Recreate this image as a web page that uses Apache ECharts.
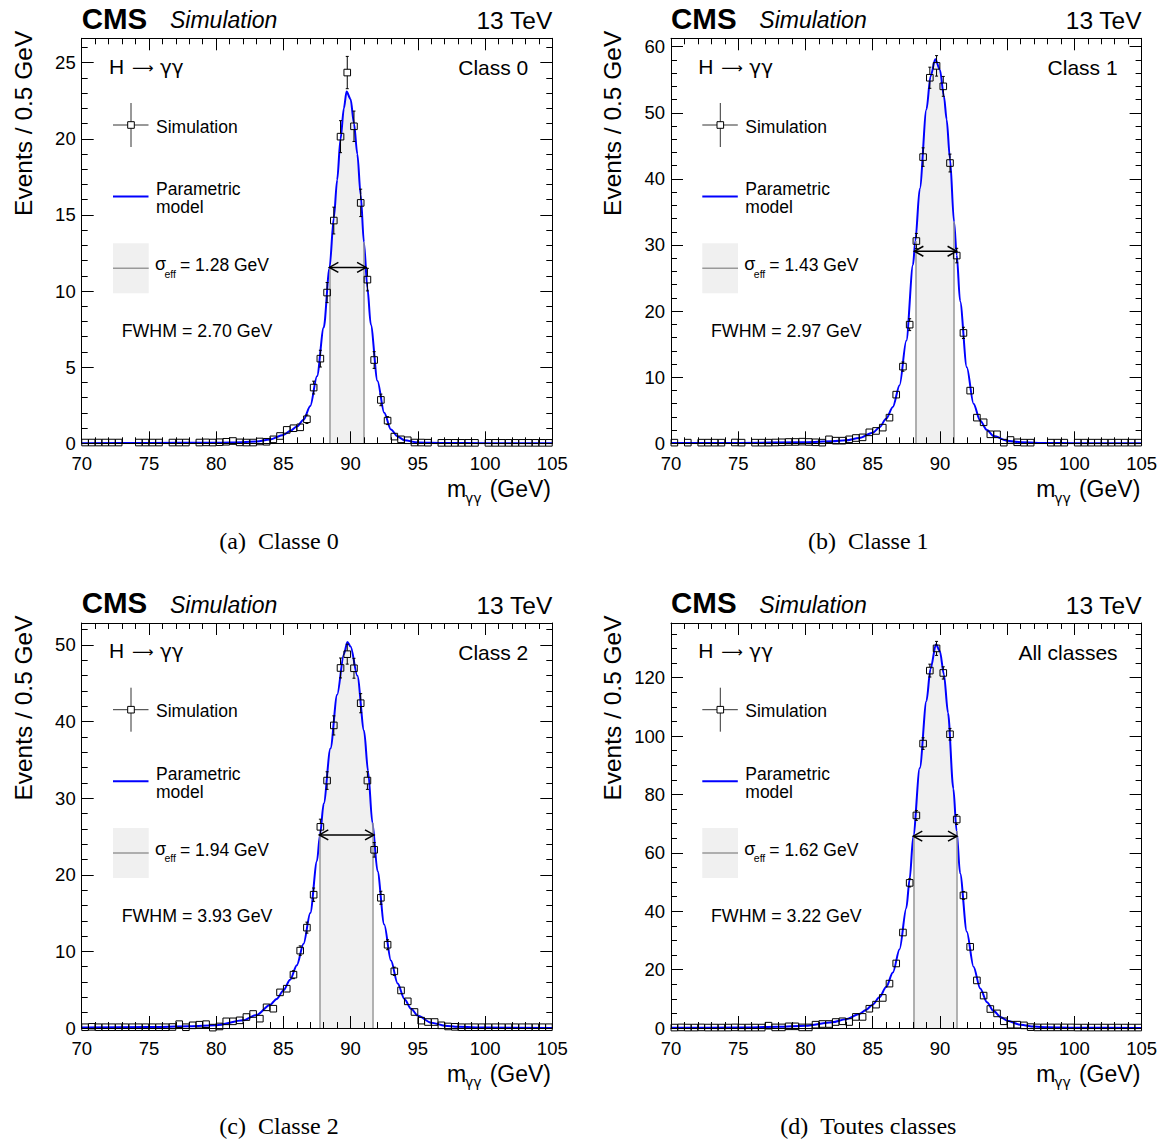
<!DOCTYPE html>
<html><head><meta charset="utf-8">
<script src="https://cdn.jsdelivr.net/npm/echarts@6/dist/echarts.min.js"></script>
<style>html,body{margin:0;padding:0;background:#fff}#c{width:1162px;height:1139px}</style>
</head><body><div id="c"></div>
<script>
// ---------------- data ----------------
const binCenters = [
 70.25,70.75,71.25,71.75,72.25,72.75,73.25,73.75,74.25,74.75,
 75.25,75.75,76.25,76.75,77.25,77.75,78.25,78.75,79.25,79.75,
 80.25,80.75,81.25,81.75,82.25,82.75,83.25,83.75,84.25,84.75,
 85.25,85.75,86.25,86.75,87.25,87.75,88.25,88.75,89.25,89.75,
 90.25,90.75,91.25,91.75,92.25,92.75,93.25,93.75,94.25,94.75,
 95.25,95.75,96.25,96.75,97.25,97.75,98.25,98.75,99.25,99.75,
 100.25,100.75,101.25,101.75,102.25,102.75,103.25,103.75,104.25,104.75];

const class0Values = [
 0.05,0.05,0.05,0.05,0.05,0.05,null,null,0.05,0.05,
 0.05,0.05,null,0.05,0.05,0.05,null,0.05,0.06,0.05,
 0.07,0.1,0.15,0.06,0.05,0.05,0.12,0.1,0.26,0.48,
 0.88,0.99,1.05,1.58,3.66,5.56,9.9,14.63,20.14,24.35,
 20.82,15.79,10.75,5.47,2.85,1.49,0.44,0.26,0.2,0.05,
 0.05,0.04,null,0.03,0.03,0.03,0.03,0.03,0.03,null,
 0.03,0.03,0.03,0.03,0.03,0.03,0.03,0.03,0.03,0.03];
const class0Errors = [
 0,0,0,0,0,0,0,0,0,0, 0,0,0,0,0,0,0,0,0,0,
 0,0,0,0,0,0,0,0,0.1,0.14,
 0.2,0.21,0.22,0.28,0.42,0.55,0.66,0.88,1.05,1.06,
 1.0,0.9,0.74,0.55,0.38,0.26,0.14,0.1,0.1,0,
 0,0,0,0,0,0,0,0,0,0, 0,0,0,0,0,0,0,0,0,0];

const class1Values = [
 0.1,null,0.1,null,0.1,0.1,0.1,0.1,null,0.12,
 0.1,null,0.1,0.1,0.1,0.12,0.15,0.2,0.2,0.25,
 0.2,0.15,0.1,0.6,0.4,0.4,0.6,0.8,0.9,1.66,
 1.87,2.37,3.88,7.36,11.6,17.95,30.6,43.3,55.3,57.1,
 54.0,42.4,28.4,16.7,7.97,3.88,3.18,1.36,1.36,0.1,
 0.5,0.15,0.1,0.1,null,null,0.1,0.1,0.1,null,
 0.1,0.1,0.1,0.1,0.1,0.1,0.1,0.1,0.1,0.1];
const class1Errors = [
 0,0,0,0,0,0,0,0,0,0, 0,0,0,0,0,0,0,0,0,0,
 0,0,0,0.15,0.13,0.13,0.15,0.18,0.19,0.26,
 0.27,0.3,0.4,0.55,0.7,0.9,1.15,1.4,1.6,1.55,
 1.5,1.35,1.1,0.85,0.57,0.4,0.36,0.23,0.23,0,
 0.14,0,0,0,0,0,0,0,0,0, 0,0,0,0,0,0,0,0,0,0];

const class2Values = [
 0.1,0.15,0.1,0.1,0.1,0.1,0.1,0.1,0.1,0.1,
 0.1,0.1,0.1,0.13,0.5,0.1,0.35,0.43,0.5,0.05,
 0.2,0.87,0.87,1.0,1.43,1.83,1.22,2.7,2.52,4.65,
 5.13,6.96,10.1,13.1,17.4,26.26,32.3,39.5,47.0,48.8,
 46.96,42.4,32.3,23.26,17.0,10.87,7.4,4.9,3.48,2.09,
 0.96,0.78,0.78,0.35,0.2,0.15,0.1,0.1,0.1,0.1,
 0.1,0.1,0.1,0.1,0.1,0.1,0.1,0.1,0.1,0.1];
const class2Errors = [
 0,0,0,0,0,0,0,0,0,0, 0,0,0,0,0.14,0,0.12,0.13,0.14,0,
 0,0.19,0.19,0.2,0.24,0.27,0.22,0.33,0.32,0.43,
 0.45,0.52,0.62,0.72,0.87,1.0,1.15,1.25,1.3,1.3,
 1.3,1.25,1.15,0.95,0.85,0.65,0.54,0.44,0.37,0.29,
 0.2,0.18,0.18,0.12,0,0,0,0,0,0, 0,0,0,0,0,0,0,0,0,0];

const allValues = [
 0.15,0.2,0.15,0.15,0.2,0.15,0.15,0.15,0.15,0.2,
 0.15,0.15,0.15,0.15,0.8,0.2,0.2,0.57,0.57,0.2,
 0.2,1.14,1.37,1.37,2.05,2.3,2.05,3.8,3.8,6.6,
 8.0,10.3,15.2,22.1,32.7,49.7,72.8,97.4,122.4,130.0,
 121.6,100.6,71.4,45.4,27.8,16.3,11.1,6.5,5.0,2.3,
 1.14,1.14,0.9,0.3,0.2,0.2,0.2,0.2,0.2,0.2,
 0.15,0.15,0.15,0.15,0.15,0.15,0.15,0.15,0.15,0.15];
const allErrors = [
 0,0,0,0,0,0,0,0,0,0, 0,0,0,0,0,0,0,0,0,0,
 0,0,0,0,0.3,0.3,0.3,0.4,0.4,0.5,
 0.57,0.64,0.78,0.94,1.15,1.4,1.7,2.0,2.2,2.4,
 2.1,2.0,1.7,1.35,1.05,0.8,0.67,0.5,0.45,0.3,
 0,0,0,0,0,0,0,0,0,0, 0,0,0,0,0,0,0,0,0,0];

// parametric model curves
const class0CurveX = [70,75,80,82,83,84,85,85.5,86,86.5,87,87.5,88,88.43,88.75,89,89.25,89.5,89.7,90,90.25,90.5,90.75,90.99,91.25,91.5,92,92.5,93,93.5,94,95,97,100,105];
const class0CurveY = [0.01,0.02,0.04,0.07,0.12,0.25,0.55,0.8,1.1,1.55,2.45,4.4,7.6,11.5,14.8,17.3,20.0,22.0,23.1,22.6,21.0,19.0,16.3,13.2,10.2,7.8,4.1,2.0,0.9,0.45,0.2,0.05,0.02,0.01,0.01];
const class1CurveX = [70,75,80,82,83,84,85,85.5,86,86.5,87,87.5,88,88.17,88.5,89,89.3,89.66,90,90.3,90.5,90.75,91.05,91.25,91.5,92,92.5,93,93.5,94,95,96,98,100,105];
const class1CurveY = [0.03,0.06,0.15,0.3,0.45,0.8,1.6,2.4,3.7,5.5,8.8,15.5,27.0,30.6,38.5,50.5,55.5,58.1,56.5,52.5,49.0,43.0,33.5,28.5,21.5,11.5,6.0,3.4,2.0,1.1,0.4,0.15,0.05,0.02,0.01];
const class2CurveX = [70,75,78,80,82,83,84,84.5,85,85.5,86,86.5,87,87.5,87.72,88,88.5,89,89.5,89.76,90,90.5,91,91.3,91.62,92,92.5,93,93.5,94,94.5,95,96,97,98,100,105];
const class2CurveY = [0.05,0.12,0.22,0.35,1.0,1.7,3.0,3.8,4.9,6.3,8.2,11.0,15.0,21.8,25.2,29.3,36.5,43.5,48.8,50.4,49.8,46.0,38.8,33.5,26.8,20.5,13.5,8.8,5.8,3.8,2.5,1.6,0.7,0.3,0.15,0.05,0.01];
const allCurveX = [70,75,78,80,82,83,84,84.5,85,85.5,86,86.5,87,87.5,87.75,88.02,88.5,89,89.3,89.71,90,90.3,90.6,91,91.24,91.5,92,92.5,93,93.5,94,94.5,95,96,97,98,100,105];
const allCurveY = [0.05,0.15,0.4,0.8,2.0,3.0,4.8,6.2,8.0,10.5,14.0,19.0,27.0,41.0,51.0,65.7,89.0,112,123,131.4,129,121,108,82,67.5,53,33,21,13.5,8.8,5.8,3.8,2.5,1.1,0.5,0.25,0.08,0.02];

// sigma_eff windows [low, high] and FWHM arrows [low, high, height]
const class0Window = [88.43, 90.99];  const class0Fwhm = [88.42, 91.15, 11.55];
const class1Window = [88.17, 91.05];  const class1Fwhm = [88.1, 91.24, 29.05];
const class2Window = [87.72, 91.62];  const class2Fwhm = [87.67, 91.74, 25.2];
const allWindow    = [88.02, 91.24];  const allFwhm    = [88.02, 91.27, 65.7];

const classLabels = ['Class 0', 'Class 1', 'Class 2', 'All classes'];
const sigmaTexts  = ['= 1.28 GeV', '= 1.43 GeV', '= 1.94 GeV', '= 1.62 GeV'];
const fwhmTexts   = ['FWHM = 2.70 GeV', 'FWHM = 2.97 GeV', 'FWHM = 3.93 GeV', 'FWHM = 3.22 GeV'];
const captions    = ['(a)\u00a0\u00a0Classe 0', '(b)\u00a0\u00a0Classe 1', '(c)\u00a0\u00a0Classe 2', '(d)\u00a0\u00a0Toutes classes'];
const yMaxima     = [26.6, 61.27, 52.87, 138.7];
const yMajorSteps = [5, 10, 10, 20];
const yMinorSteps = [1, 2, 2, 5];
const xRange = [70, 105];
const xMajorStep = 5;

// ---------------- layout ----------------
const FONT = '"Liberation Sans", Arial, Helvetica, sans-serif';
const GREEK = '"DejaVu Sans", "Liberation Sans", sans-serif';
const SERIF = '"Liberation Serif", "Times New Roman", serif';
const OX = [0, 589.3, 0, 589.3];
const OY = [0, 0, 584.7, 584.7];

const panels = [
  {v: class0Values, e: class0Errors, cx: class0CurveX, cy: class0CurveY, win: class0Window, fw: class0Fwhm},
  {v: class1Values, e: class1Errors, cx: class1CurveX, cy: class1CurveY, win: class1Window, fw: class1Fwhm},
  {v: class2Values, e: class2Errors, cx: class2CurveX, cy: class2CurveY, win: class2Window, fw: class2Fwhm},
  {v: allValues,    e: allErrors,    cx: allCurveX,    cy: allCurveY,    win: allWindow,    fw: allFwhm}
];

function xAxisCfg(g, pos, labels) {
  return {type: 'value', gridIndex: g, position: pos, min: xRange[0], max: xRange[1], interval: xMajorStep, z: 10,
    axisLine: {show: true, onZero: false, lineStyle: {color: '#000', width: 1}},
    axisTick: {show: true, inside: true, length: 12, lineStyle: {color: '#000', width: 1}},
    minorTick: {show: true, splitNumber: 5, length: 6, lineStyle: {color: '#000', width: 1}},
    axisLabel: {show: labels, color: '#000', fontSize: 18.5, fontFamily: FONT, margin: 10.5},
    splitLine: {show: false}, minorSplitLine: {show: false}};
}
function yAxisCfg(g, pos, step, len, labels, max, line) {
  return {type: 'value', gridIndex: g, position: pos, min: 0, max: max, interval: step, z: 10,
    axisLine: {show: line, onZero: false, lineStyle: {color: '#000', width: 1}},
    axisTick: {show: true, inside: true, length: len, lineStyle: {color: '#000', width: 1}},
    axisLabel: {show: labels, color: '#000', fontSize: 18.5, fontFamily: FONT, margin: 6,
      formatter: function (v) { const r = v / step; return Math.abs(r - Math.round(r)) < 1e-6 ? String(v) : ''; }},
    splitLine: {show: false}};
}

function T(x, base, text, size, o) {
  o = o || {};
  return {type: 'text', x: x, y: base - 0.31 * size, rotation: o.rot || 0, silent: true, z: 100,
    style: {text: text, fill: '#000', fontSize: size, fontFamily: o.family || FONT,
      fontWeight: o.weight || 'normal', fontStyle: o.italic ? 'italic' : 'normal',
      textAlign: o.align || 'left', align: o.align || 'left', textVerticalAlign: 'middle', verticalAlign: 'middle'}};
}
function L(x1, y1, x2, y2, color, w) {
  return {type: 'line', silent: true, z: 100, shape: {x1: x1, y1: y1, x2: x2, y2: y2}, style: {stroke: color, lineWidth: w}};
}

function renderPoint(params, api) {
  const x = api.value(0), y = api.value(1), e = api.value(2);
  const c = api.coord([x, y]);
  const h = 3.3;
  const st = {stroke: '#000', lineWidth: 1};
  const ch = [];
  if (e > 0) {
    const t = api.coord([x, y + e])[1];
    const b = api.coord([x, Math.max(0, y - e)])[1];
    if (c[1] - t > h + 0.5) {
      ch.push({type: 'line', shape: {x1: c[0], y1: t, x2: c[0], y2: c[1] - h}, style: st});
      ch.push({type: 'line', shape: {x1: c[0] - 1.5, y1: t, x2: c[0] + 1.5, y2: t}, style: st});
    }
    if (b - c[1] > h + 0.5) {
      ch.push({type: 'line', shape: {x1: c[0], y1: c[1] + h, x2: c[0], y2: b}, style: st});
      ch.push({type: 'line', shape: {x1: c[0] - 1.5, y1: b, x2: c[0] + 1.5, y2: b}, style: st});
    }
  }
  ch.push({type: 'rect', shape: {x: c[0] - h, y: c[1] - h, width: 2 * h, height: 2 * h}, style: {stroke: '#000', lineWidth: 1, fill: 'none'}});
  return {type: 'group', children: ch};
}
function renderArrow(params, api) {
  const y = api.value(2);
  const a = api.coord([api.value(0), y]), b = api.coord([api.value(1), y]);
  const st = {stroke: '#000', lineWidth: 1.5, fill: 'none'};
  return {type: 'group', children: [
    {type: 'line', shape: {x1: a[0], y1: a[1], x2: b[0], y2: b[1]}, style: st},
    {type: 'polyline', shape: {points: [[a[0] + 9, a[1] - 5], [a[0], a[1]], [a[0] + 9, a[1] + 5]]}, style: st},
    {type: 'polyline', shape: {points: [[b[0] - 9, b[1] - 5], [b[0], b[1]], [b[0] - 9, b[1] + 5]]}, style: st}
  ]};
}

const grids = [], xAxes = [], yAxes = [], series = [], graphics = [];
panels.forEach(function (p, k) {
  const ox = OX[k], oy = OY[k];
  grids.push({left: 81.7 + ox, top: 38.3 + oy, width: 470.6, height: 405, containLabel: false});
  xAxes.push(xAxisCfg(k, 'bottom', true), xAxisCfg(k, 'top', false));
  yAxes.push(
    yAxisCfg(k, 'left', yMajorSteps[k], 12, true, yMaxima[k], true),
    yAxisCfg(k, 'right', yMajorSteps[k], 12, false, yMaxima[k], true),
    yAxisCfg(k, 'left', yMinorSteps[k], 6, false, yMaxima[k], false),
    yAxisCfg(k, 'right', yMinorSteps[k], 6, false, yMaxima[k], false));
  const xi = 2 * k, yi = 4 * k;
  const curve = p.cx.map(function (x, i) { return [x, p.cy[i]]; });
  const shade = curve.filter(function (d) { return d[0] >= p.win[0] - 1e-9 && d[0] <= p.win[1] + 1e-9; });
  const yL = shade[0][1], yR = shade[shade.length - 1][1];
  series.push({type: 'line', xAxisIndex: xi, yAxisIndex: yi, data: shade, smooth: 0.3, smoothMonotone: 'x',
    symbol: 'none', showSymbol: false, silent: true, z: 1, animation: false,
    lineStyle: {width: 0, opacity: 0}, areaStyle: {color: '#f0f0f0', opacity: 1},
    markLine: {symbol: 'none', silent: true, animation: false, label: {show: false},
      lineStyle: {color: '#999999', width: 1.5, type: 'solid'},
      data: [[{coord: [p.win[0], 0]}, {coord: [p.win[0], yL]}], [{coord: [p.win[1], 0]}, {coord: [p.win[1], yR]}]]}});
  series.push({type: 'line', xAxisIndex: xi, yAxisIndex: yi, data: curve, smooth: 0.3, smoothMonotone: 'x',
    symbol: 'none', showSymbol: false, silent: true, z: 3, animation: false,
    lineStyle: {color: '#0000ff', width: 2}});
  const pts = [];
  binCenters.forEach(function (x, i) { if (p.v[i] !== null) pts.push([x, p.v[i], p.e[i]]); });
  series.push({type: 'custom', xAxisIndex: xi, yAxisIndex: yi, data: pts, renderItem: renderPoint,
    encode: {x: 0, y: 1}, silent: true, z: 5, animation: false, clip: false});
  series.push({type: 'custom', xAxisIndex: xi, yAxisIndex: yi, data: [p.fw], renderItem: renderArrow,
    encode: {x: [0, 1], y: 2}, silent: true, z: 6, animation: false, clip: false});

  // texts
  graphics.push(
    T(81.7 + ox, 27.3 + oy, 'CMS', 29.5, {weight: 'bold'}),
    T(170 + ox, 27.3 + oy, 'Simulation', 23, {italic: true}),
    T(552.3 + ox, 28.5 + oy, '13 TeV', 24.5, {align: 'right'}),
    T(23 + ox, 38.3 + oy, 'Events / 0.5 GeV', 24.5, {align: 'right', rot: Math.PI / 2}),
    T(447 + ox, 496 + oy, 'm', 23),
    T(465 + ox, 502 + oy, 'γγ', 14, {family: GREEK}),
    T(551 + ox, 496 + oy, '(GeV)', 23, {align: 'right'}),
    T(109 + ox, 72.7 + oy, 'H', 21),
    T(132 + ox, 72.2 + oy, '⟶', 15, {family: GREEK}),
    T(160 + ox, 72.7 + oy, 'γγ', 20, {family: GREEK}),
    T(528.3 + ox, 74 + oy, classLabels[k], 21, {align: 'right'}),
    T(156 + ox, 132 + oy, 'Simulation', 17.5),
    T(156 + ox, 194.5 + oy, 'Parametric', 17.5),
    T(156 + ox, 212.7 + oy, 'model', 17.5),
    T(155 + ox, 270 + oy, 'σ', 18),
    T(164.5 + ox, 277 + oy, 'eff', 10.5),
    T(180 + ox, 270.5 + oy, sigmaTexts[k], 17.5),
    T(121.7 + ox, 336.7 + oy, fwhmTexts[k], 17.8),
    T(279 + ox, 548.3 + oy, captions[k], 24, {family: SERIF, align: 'center'})
  );
  // legend symbols
  graphics.push(
    {type: 'rect', silent: true, z: 99, shape: {x: 113 + ox, y: 243.3 + oy, width: 35.7, height: 50}, style: {fill: '#f0f0f0'}},
    L(113 + ox, 268.3 + oy, 148.7 + ox, 268.3 + oy, '#999999', 1.5),
    L(113 + ox, 196.5 + oy, 148.5 + ox, 196.5 + oy, '#0000ff', 2),
    L(113 + ox, 125 + oy, 127.7 + ox, 125 + oy, '#333', 1),
    L(134.3 + ox, 125 + oy, 148.5 + ox, 125 + oy, '#333', 1),
    L(131 + ox, 103 + oy, 131 + ox, 121.7 + oy, '#333', 1),
    L(131 + ox, 128.3 + oy, 131 + ox, 147 + oy, '#333', 1),
    {type: 'rect', silent: true, z: 100, shape: {x: 127.7 + ox, y: 121.7 + oy, width: 6.6, height: 6.6}, style: {fill: 'none', stroke: '#000', lineWidth: 1}}
  );
});

const chart = echarts.init(document.getElementById('c'), null, {renderer: 'svg', width: 1162, height: 1139});
chart.setOption({
  backgroundColor: '#ffffff',
  animation: false,
  grid: grids, xAxis: xAxes, yAxis: yAxes, series: series,
  graphic: {elements: graphics}
});
</script>
</body></html>
